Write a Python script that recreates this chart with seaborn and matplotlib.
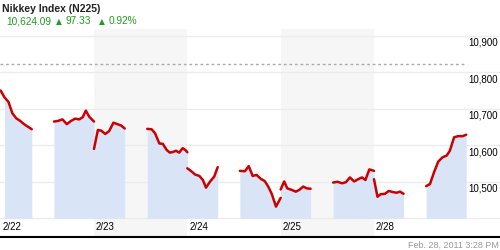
import matplotlib
matplotlib.use("Agg")
import matplotlib.pyplot as plt
import matplotlib.transforms as mtransforms
import seaborn as sns
import pandas as pd
import numpy as np

# ---- data (x = trading-chart hours from 2/22 00:00, y = index level) ----
seg1_h = [0, 1, 2, 3, 4, 5, 6, 7, 8]
seg1_v = [10750, 10731, 10719, 10688, 10674, 10667, 10658, 10651, 10644]
seg2_h = [13.7, 14.8, 15.9, 17.0, 18.0, 19.1, 20.2, 21.1, 21.9, 22.8, 24.0]
seg2_v = [10665, 10667, 10671, 10658, 10666, 10673, 10671, 10677, 10695, 10678, 10665]
seg3_h = [24.0, 25.0, 25.9, 26.9, 27.9, 29.0, 30.0, 31.0, 31.9]
seg3_v = [10590, 10642, 10640, 10631, 10639, 10662, 10658, 10654, 10646]
seg4_h = [37.7, 38.8, 39.7, 40.8, 41.7, 42.7, 43.5, 44.4, 45.1, 45.9, 46.8, 47.5, 48.0]
seg4_v = [10645, 10644, 10633, 10605, 10604, 10587, 10580, 10582, 10585, 10580, 10592, 10587, 10581]
seg5_h = [48.0, 48.9, 50.0, 51.1, 52.0, 52.8, 53.8, 54.9, 55.8]
seg5_v = [10537, 10530, 10520, 10516, 10505, 10484, 10500, 10514, 10540]
seg6_h = [61.5, 62.8, 63.8, 64.8, 65.8, 66.9, 67.9, 68.8, 69.7, 70.8, 72.0]
seg6_v = [10530, 10529, 10543, 10516, 10519, 10508, 10502, 10487, 10467, 10432, 10456]
seg7_h = [72.0, 72.9, 73.7, 74.8, 75.9, 76.8, 77.8, 78.7, 79.7]
seg7_v = [10479, 10501, 10482, 10478, 10473, 10478, 10487, 10482, 10481]
seg8_h = [85.5, 86.6, 87.8, 88.8, 89.8, 90.9, 91.9, 92.9, 93.8, 94.8, 96.0]
seg8_v = [10498, 10500, 10496, 10499, 10512, 10501, 10507, 10512, 10505, 10534, 10530]
seg9_h = [96.0, 96.9, 97.7, 98.8, 99.8, 100.8, 101.8, 102.7, 103.6]
seg9_v = [10507, 10459, 10466, 10467, 10475, 10472, 10470, 10473, 10467]
seg10_h = [109.4, 110.4, 111.4, 112.5, 113.6, 114.7, 115.5, 116.6, 117.6, 118.8, 119.7]
seg10_v = [10488, 10494, 10525, 10555, 10567, 10572, 10585, 10622, 10625, 10625, 10629]

day_ticks = [0, 24, 48, 72, 96]
day_labels = ["2/22", "2/23", "2/24", "2/25", "2/28"]
shaded_days = [(24, 48), (72, 96)]
y_ticks = [10400, 10500, 10600, 10700, 10800, 10900]
y_labels = ["", "10,500", "10,600", "10,700", "10,800", "10,900"]
ref_level = 10824

title = "Nikkey Index (N225)"
last_val = "10,624.09"
chg_val = "97.33"
chg_pct = "0.92%"
stamp = "Feb. 28, 2011 3:28 PM"

segments = [(seg1_h, seg1_v), (seg2_h, seg2_v), (seg3_h, seg3_v), (seg4_h, seg4_v),
            (seg5_h, seg5_v), (seg6_h, seg6_v), (seg7_h, seg7_v), (seg8_h, seg8_v),
            (seg9_h, seg9_v), (seg10_h, seg10_v)]
fill_groups = [[0], [1, 2], [3, 4], [5, 6], [7, 8], [9]]

rows = []
for i, (h, v) in enumerate(segments):
    for a, b in zip(h, v):
        rows.append({"hour": a, "value": b, "seg": i})
df = pd.DataFrame(rows)

sns.set_theme(style="white")
plt.rcParams["font.family"] = ["Liberation Sans", "DejaVu Sans"]

fig = plt.figure(figsize=(5, 2.5), dpi=100)
ax = fig.add_axes([0, 13 / 250, 1, 208 / 250])

xmin, xmax = -0.17, 128.4
ax.set_xlim(xmin, xmax)
ax.set_ylim(10348.8, 10918.6)

for a, b in shaded_days:
    ax.axvspan(a, b, color="#f6f6f6", lw=0, zorder=0)

for yv in y_ticks:
    ax.axhline(yv, color="#ececec", lw=1, zorder=1)

ax.hlines(ref_level, xmin, 119.7, colors="#aaaaaa", lw=1, linestyles=(0, (2, 2)), zorder=2)

for gi, grp in enumerate(fill_groups):
    hx, vy = [], []
    for s in grp:
        hx += segments[s][0]
        vy += segments[s][1]
    if gi == 0:
        hx, vy = hx[1:], vy[1:]
    ax.fill_between(hx, 10400, vy, color="#d9e4f6", lw=0, zorder=2)

sns.lineplot(data=df, x="hour", y="value", units="seg", estimator=None,
             color="#cc0000", lw=1.8, ax=ax, zorder=3, legend=False)

ax.set_xlabel("")
ax.set_ylabel("")
ax.set_xticks(day_ticks)
ax.set_xticklabels(day_labels, fontsize=7, color="black")
ax.tick_params(axis="x", length=0, pad=-11)
for t in ax.get_xticklabels():
    t.set_ha("left")
    t.set_transform(t.get_transform() + mtransforms.ScaledTranslation(2 / 100, 0, fig.dpi_scale_trans))

ax.yaxis.tick_right()
ax.set_yticks(y_ticks)
ax.set_yticklabels(y_labels, fontsize=7, color="black")
ax.tick_params(axis="y", length=0, pad=-23)
for t in ax.get_yticklabels():
    t.set_va("top")
    t.set_transform(t.get_transform() + mtransforms.ScaledTranslation(0, -2 / 100, fig.dpi_scale_trans))

for sp in ["top", "left", "right"]:
    ax.spines[sp].set_visible(False)
ax.spines["bottom"].set_color("black")
ax.spines["bottom"].set_linewidth(1.5)
ax.grid(False)

green = "#1f9e1f"
fig.text(2 / 500, 1 - 12.5 / 250, title, fontsize=7.5, fontweight="bold", color="#222222", va="baseline")
fig.text(6 / 500, 1 - 24 / 250, last_val, fontsize=7.3, color=green, va="baseline")
fig.text(56 / 500, 1 - 24 / 250, "\u25b2", fontsize=5.5, color=green, va="baseline",
         family=["DejaVu Sans"])
fig.text(66 / 500, 1 - 24 / 250, chg_val, fontsize=7.3, color=green, va="baseline")
fig.text(99 / 500, 1 - 24 / 250, "\u25b2", fontsize=5.5, color=green, va="baseline",
         family=["DejaVu Sans"])
fig.text(109 / 500, 1 - 24 / 250, chg_pct, fontsize=7.3, color=green, va="baseline")
fig.text(499 / 500, 1 - 247.5 / 250, stamp, fontsize=6.5, color="#999999", ha="right", va="baseline")

fig.savefig("out.png", dpi=100)
